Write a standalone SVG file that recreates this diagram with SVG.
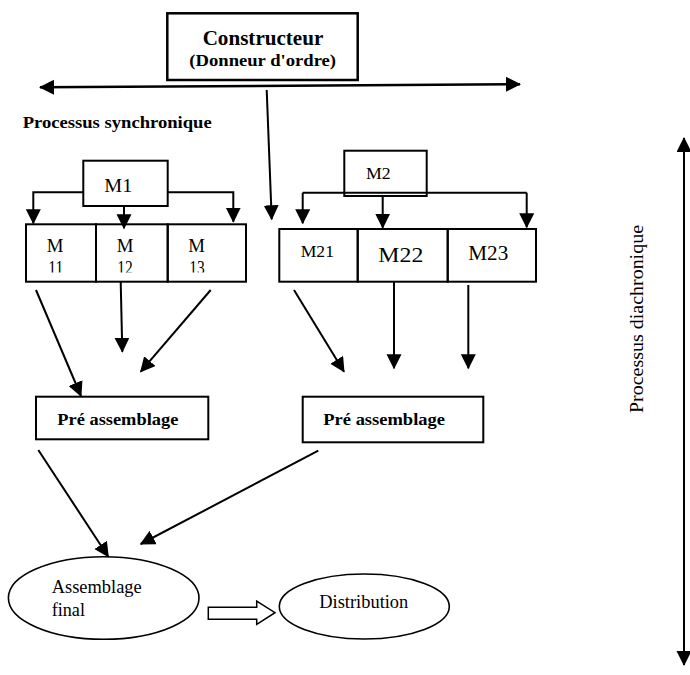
<svg xmlns="http://www.w3.org/2000/svg" width="690" height="675" viewBox="0 0 690 675">
<style>
  text { font-family: "Liberation Serif", "Times New Roman", serif; fill: #000; }
  .b { font-weight: bold; }
  .box { fill: none; stroke: #000; stroke-width: 2; }
  .ell { fill: #fff; stroke: #000; stroke-width: 1.6; }
  .ln { fill: none; stroke: #000; stroke-width: 2; }
  .arr { fill: none; stroke: #000; stroke-width: 2; marker-end: url(#ah); }
</style>
<defs>
  <marker id="ah" markerUnits="userSpaceOnUse" markerWidth="16" markerHeight="16" refX="14" refY="7.5" orient="auto">
    <path d="M0,0 L15,7.5 L0,15 z" fill="#000"/>
  </marker>
  <marker id="ahs" markerUnits="userSpaceOnUse" markerWidth="16" markerHeight="16" refX="14" refY="7.5" orient="auto-start-reverse">
    <path d="M0,0 L15,7.5 L0,15 z" fill="#000"/>
  </marker>
  <clipPath id="c1"><rect x="26" y="224" width="220" height="48.5"/></clipPath>
</defs>
<rect width="690" height="675" fill="#fff"/>

<g id="constructeur">
  <rect x="167.3" y="13.3" width="190.4" height="66.7" fill="none" stroke="#000" stroke-width="2.5"/>
  <text class="b" x="263" y="45" font-size="21" text-anchor="middle" textLength="120.7" lengthAdjust="spacingAndGlyphs">Constructeur</text>
  <text class="b" x="262.7" y="65.5" font-size="17" text-anchor="middle" textLength="146.7" lengthAdjust="spacingAndGlyphs">(Donneur d'ordre)</text>
</g>

<g id="label-synchronique">
  <text class="b" x="22.7" y="128" font-size="17" textLength="189" lengthAdjust="spacingAndGlyphs">Processus synchronique</text>
</g>

<g id="label-diachronique">
  <text x="643" y="413" font-size="18" transform="rotate(-90 643 413)" textLength="188" lengthAdjust="spacingAndGlyphs">Processus diachronique</text>
</g>

<g id="M1">
  <rect class="box" x="83.3" y="160.7" width="84.4" height="45.3"/>
  <text x="104.3" y="191.7" font-size="18" textLength="28" lengthAdjust="spacingAndGlyphs">M1</text>
</g>

<g id="M11">
  <rect class="box" x="26" y="224.3" width="70" height="57.4"/>
  <text x="46.7" y="252" font-size="18" textLength="16.7" lengthAdjust="spacingAndGlyphs">M</text>
  <text x="48.3" y="274" font-size="18" clip-path="url(#c1)" textLength="15" lengthAdjust="spacingAndGlyphs">11</text>
</g>
<g id="M12">
  <rect class="box" x="96" y="224.3" width="71.7" height="57.4"/>
  <text x="116.7" y="252" font-size="18" textLength="16.7" lengthAdjust="spacingAndGlyphs">M</text>
  <text x="117.3" y="274" font-size="18" clip-path="url(#c1)" textLength="15.5" lengthAdjust="spacingAndGlyphs">12</text>
</g>
<g id="M13">
  <rect class="box" x="167.7" y="224.3" width="78.3" height="57.4"/>
  <text x="188.3" y="252" font-size="18" textLength="16.7" lengthAdjust="spacingAndGlyphs">M</text>
  <text x="189.3" y="274" font-size="18" clip-path="url(#c1)" textLength="15.5" lengthAdjust="spacingAndGlyphs">13</text>
</g>

<g id="M2">
  <rect class="box" x="344.3" y="150.7" width="82.4" height="45.3"/>
  <text x="366" y="179.3" font-size="17" textLength="24.7" lengthAdjust="spacingAndGlyphs">M2</text>
</g>

<g id="M21">
  <rect class="box" x="279.3" y="229" width="78.4" height="52.7"/>
  <text x="300.7" y="256.7" font-size="16" textLength="33.3" lengthAdjust="spacingAndGlyphs">M21</text>
</g>
<g id="M22">
  <rect class="box" x="357.7" y="229" width="90" height="52.7"/>
  <text x="378.3" y="261.7" font-size="22" textLength="45" lengthAdjust="spacingAndGlyphs">M22</text>
</g>
<g id="M23">
  <rect class="box" x="447.7" y="229" width="88.3" height="52.7"/>
  <text x="468.3" y="260" font-size="20" textLength="40" lengthAdjust="spacingAndGlyphs">M23</text>
</g>

<g id="pre-assemblage-1">
  <rect class="box" x="36" y="396.7" width="172.3" height="42.6"/>
  <text class="b" x="57.3" y="425" font-size="17" textLength="121" lengthAdjust="spacingAndGlyphs">Pré assemblage</text>
</g>
<g id="pre-assemblage-2">
  <rect class="box" x="302.7" y="396.7" width="180.6" height="45.6"/>
  <text class="b" x="323.3" y="425" font-size="17" textLength="121.7" lengthAdjust="spacingAndGlyphs">Pré assemblage</text>
</g>

<g id="assemblage-final">
  <ellipse class="ell" cx="103.7" cy="598" rx="95.3" ry="41.3"/>
  <text x="51.7" y="593.3" font-size="18" textLength="90" lengthAdjust="spacingAndGlyphs">Assemblage</text>
  <text x="51.7" y="616" font-size="18" textLength="33.3" lengthAdjust="spacingAndGlyphs">final</text>
</g>

<g id="distribution">
  <ellipse class="ell" cx="364.3" cy="606.5" rx="85" ry="32.5"/>
  <text x="319.3" y="608.3" font-size="18" textLength="89" lengthAdjust="spacingAndGlyphs">Distribution</text>
</g>

<g id="connectors">
  <line x1="40" y1="87.3" x2="520" y2="84.2" class="ln" marker-start="url(#ahs)" marker-end="url(#ah)" style="stroke-width:2.5"/>
  <line class="arr" x1="266.7" y1="90" x2="271.7" y2="219.3"/>
  <polyline class="arr" points="83.3,192.3 33.3,192.3 33.3,223.3"/>
  <line class="arr" x1="124" y1="206" x2="124" y2="228.3"/>
  <polyline class="arr" points="167.7,192.3 233.3,192.3 233.3,221.7"/>
  <line class="ln" x1="302.7" y1="192.7" x2="526.7" y2="192.7"/>
  <line class="arr" x1="302.7" y1="192.7" x2="302.7" y2="223.3"/>
  <line class="arr" x1="382.7" y1="196" x2="382.7" y2="227.7"/>
  <line class="arr" x1="526.7" y1="192.7" x2="526.7" y2="227.3"/>
  <line class="arr" x1="36" y1="290" x2="81" y2="396"/>
  <line class="arr" x1="120.7" y1="281.7" x2="122.3" y2="351.7"/>
  <line class="arr" x1="210.7" y1="290" x2="140.7" y2="371.7"/>
  <line class="arr" x1="294" y1="290" x2="344" y2="371.7"/>
  <line class="arr" x1="394" y1="281.7" x2="394" y2="368.3"/>
  <line class="arr" x1="468.3" y1="285" x2="468.3" y2="368.3"/>
  <line class="arr" x1="38.3" y1="450" x2="108.3" y2="556.7"/>
  <line class="arr" x1="318.3" y1="450.7" x2="140.7" y2="544"/>
  <polygon points="208.3,607.3 256.7,607.3 256.7,601 275,612.7 256.7,624.3 256.7,619.3 208.3,619.3" fill="#fff" stroke="#000" stroke-width="1.5"/>
  <line x1="684" y1="138" x2="684" y2="665" class="ln" marker-start="url(#ahs)" marker-end="url(#ah)"/>
</g>
</svg>
